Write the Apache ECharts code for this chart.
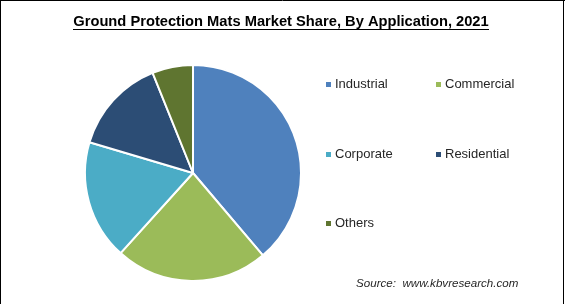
<!DOCTYPE html>
<html>
<head>
<meta charset="utf-8">
<script src="https://cdn.jsdelivr.net/npm/echarts@6/dist/echarts.min.js"></script>
<style>html,body{margin:0;padding:0;background:#fff}#c{width:565px;height:304px}</style>
</head>
<body>
<div id="c"></div>
<script>
const categories = ['Industrial', 'Commercial', 'Corporate', 'Residential', 'Others'];
const shares = [38.8, 22.9, 17.9, 14.3, 6.1];
const colors = ['#4f81bd', '#9bbb59', '#4bacc6', '#2c4d75', '#5f7530'];
const titleText = 'Ground Protection Mats Market Share, By Application, 2021';
const sourceText = 'Source:  www.kbvresearch.com';

const titleFont = 'bold 14.7px "Liberation Sans"';
const mc = document.createElement('canvas').getContext('2d');
mc.font = titleFont;
const tw = mc.measureText(titleText).width;
const tx1 = Math.round(281 - tw / 2), tx2 = Math.round(281 + tw / 2);

const chart = echarts.init(document.getElementById('c'), null, {renderer: 'canvas'});
const legendPos = [
  {left: 319, top: 73}, {left: 429, top: 73},
  {left: 319, top: 143}, {left: 429, top: 143},
  {left: 319, top: 212}
];
const legends = categories.map((name, i) => ({
  data: [name], left: legendPos[i].left, top: legendPos[i].top,
  icon: 'rect', itemWidth: 7, itemHeight: 7, itemGap: 0,
  textStyle: {fontFamily: 'Liberation Sans', fontSize: 13, color: '#262626', padding: [0, 0, 0, -2]},
  selectedMode: false
}));
chart.setOption({
  animation: false,
  color: colors,
  legend: legends,
  graphic: [
    {type: 'text', x: 281, y: 22, style: {text: titleText, font: titleFont, fill: '#000', align: 'center', verticalAlign: 'middle'}},
    {type: 'line', shape: {x1: tx1, y1: 29.5, x2: tx2, y2: 29.5}, style: {stroke: '#000', lineWidth: 1}},
    {type: 'text', left: 356, top: 278, style: {text: sourceText, font: 'italic 11.6px "Liberation Sans"', fill: '#262626'}},
    {type: 'line', shape: {x1: 0, y1: 0.5, x2: 565, y2: 0.5}, style: {stroke: '#000', lineWidth: 1}},
    {type: 'line', shape: {x1: 0.5, y1: 0, x2: 0.5, y2: 304}, style: {stroke: '#000', lineWidth: 1}},
    {type: 'line', shape: {x1: 563.5, y1: 0, x2: 563.5, y2: 304}, style: {stroke: '#000', lineWidth: 1}}
  ],
  series: [{
    type: 'pie', center: [193, 173], radius: 108, startAngle: 90, clockwise: true,
    label: {show: false}, labelLine: {show: false},
    itemStyle: {borderColor: '#fff', borderWidth: 2},
    data: categories.map((n, i) => ({name: n, value: shares[i]}))
  }]
});
</script>
</body>
</html>
